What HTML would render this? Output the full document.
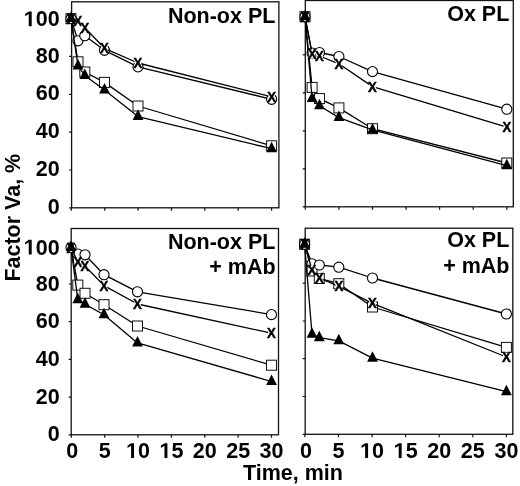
<!DOCTYPE html><html><head><meta charset="utf-8"><style>html,body{margin:0;padding:0;background:#fff}svg{display:block;will-change:transform}</style></head><body>
<svg width="520" height="486" viewBox="0 0 520 486" style="font-family:'Liberation Sans',sans-serif;font-weight:bold">
<rect width="520" height="486" fill="#fff"/>
<defs><g id="xm"><text x="0" y="5.15" font-size="15" text-anchor="middle" transform="scale(0.88 1)" fill="#000" stroke="#000" stroke-width="0.45">X</text></g><path id="one" d="M478 0V1170L140 959V1180L493 1409H759V0Z" transform="scale(0.010498 -0.010498)"/><g id="xb"><rect x="-3.3" y="-4.3" width="6.6" height="8.6" fill="#fff"/><use href="#xm"/></g></defs>
<rect x="71.6" y="1.8" width="207.3" height="206.0" fill="none" stroke="#111" stroke-width="1.3"/>
<path d="M69.1 207.8H71.6M69.1 170.0H71.6M69.1 132.1H71.6M69.1 94.3H71.6M69.1 56.4H71.6M69.1 18.6H71.6M71.3 207.8V210.8M104.7 207.8V210.8M138.1 207.8V210.8M171.5 207.8V210.8M204.8 207.8V210.8M238.2 207.8V210.8M271.6 207.8V210.8" stroke="#111" stroke-width="1.2" fill="none"/>
<polyline points="71.0,18.6 78.0,61.8 84.8,72.0 104.5,82.4 138.0,106.0 271.6,145.8" fill="none" stroke="#000" stroke-width="1.3" stroke-linejoin="round"/>
<rect x="73.0" y="56.8" width="10" height="10" fill="#fff" stroke="#111" stroke-width="1.0"/>
<rect x="79.8" y="67.0" width="10" height="10" fill="#fff" stroke="#111" stroke-width="1.0"/>
<rect x="99.5" y="77.4" width="10" height="10" fill="#fff" stroke="#111" stroke-width="1.0"/>
<rect x="133.0" y="101.0" width="10" height="10" fill="#fff" stroke="#111" stroke-width="1.0"/>
<rect x="266.6" y="140.8" width="10" height="10" fill="#fff" stroke="#111" stroke-width="1.0"/>
<polyline points="71.0,18.6 78.0,40.8 84.8,35.7 104.5,50.3 138.0,66.9 271.6,99.3" fill="none" stroke="#000" stroke-width="1.3" stroke-linejoin="round"/>
<circle cx="78.0" cy="40.8" r="5.05" fill="#fff" stroke="#000" stroke-width="1.1"/>
<circle cx="84.8" cy="35.7" r="5.05" fill="#fff" stroke="#000" stroke-width="1.1"/>
<circle cx="104.5" cy="50.3" r="5.05" fill="#fff" stroke="#000" stroke-width="1.1"/>
<circle cx="138.0" cy="66.9" r="5.05" fill="#fff" stroke="#000" stroke-width="1.1"/>
<circle cx="271.6" cy="99.3" r="5.05" fill="#fff" stroke="#000" stroke-width="1.1"/>
<polyline points="71.0,18.6 78.0,65.9 84.8,75.4 104.5,90.0 138.0,116.6 271.6,148.7" fill="none" stroke="#000" stroke-width="1.3" stroke-linejoin="round"/>
<path d="M78.0 58.9L83.4 69.4H72.6Z" fill="#000"/>
<path d="M84.8 68.4L90.2 78.9H79.4Z" fill="#000"/>
<path d="M104.5 83.0L109.9 93.5H99.1Z" fill="#000"/>
<path d="M138.0 109.6L143.4 120.1H132.6Z" fill="#000"/>
<path d="M271.6 141.7L277.0 152.2H266.2Z" fill="#000"/>
<polyline points="71.0,18.6 78.0,20.5 84.8,27.8 104.5,48.3 138.0,63.0 271.6,96.9" fill="none" stroke="#000" stroke-width="1.3" stroke-linejoin="round"/>
<use href="#xb" x="78.0" y="20.5"/>
<use href="#xb" x="84.8" y="27.8"/>
<use href="#xb" x="104.5" y="48.3"/>
<use href="#xb" x="138.0" y="63.0"/>
<use href="#xb" x="271.6" y="96.9"/>
<rect x="66.0" y="13.6" width="10" height="10" fill="#fff" stroke="#111" stroke-width="1.0"/>
<circle cx="71.0" cy="18.6" r="5.05" fill="#fff" stroke="#000" stroke-width="1.1"/>
<path d="M71.0 11.6L76.4 22.1H65.6Z" fill="#000"/>
<use href="#xm" x="71.0" y="18.6"/>
<rect x="305.3" y="0.5" width="208.0" height="206.3" fill="none" stroke="#111" stroke-width="1.3"/>
<path d="M302.8 206.8H305.3M302.8 168.8H305.3M302.8 130.8H305.3M302.8 92.9H305.3M302.8 54.9H305.3M302.8 16.9H305.3M305.3 206.8V209.8M338.9 206.8V209.8M372.5 206.8V209.8M406.1 206.8V209.8M439.6 206.8V209.8M473.2 206.8V209.8M506.8 206.8V209.8" stroke="#111" stroke-width="1.2" fill="none"/>
<polyline points="305.0,16.7 312.1,87.4 319.5,98.6 338.9,107.9 372.5,128.7 506.8,163.0" fill="none" stroke="#000" stroke-width="1.3" stroke-linejoin="round"/>
<rect x="307.1" y="82.4" width="10" height="10" fill="#fff" stroke="#111" stroke-width="1.0"/>
<rect x="314.5" y="93.6" width="10" height="10" fill="#fff" stroke="#111" stroke-width="1.0"/>
<rect x="333.9" y="102.9" width="10" height="10" fill="#fff" stroke="#111" stroke-width="1.0"/>
<rect x="367.5" y="123.7" width="10" height="10" fill="#fff" stroke="#111" stroke-width="1.0"/>
<rect x="501.8" y="158.0" width="10" height="10" fill="#fff" stroke="#111" stroke-width="1.0"/>
<polyline points="305.0,16.7 312.1,53.0 319.5,52.5 338.9,56.5 372.5,71.6 506.8,109.2" fill="none" stroke="#000" stroke-width="1.3" stroke-linejoin="round"/>
<circle cx="312.1" cy="53.0" r="5.05" fill="#fff" stroke="#000" stroke-width="1.1"/>
<circle cx="319.5" cy="52.5" r="5.05" fill="#fff" stroke="#000" stroke-width="1.1"/>
<circle cx="338.9" cy="56.5" r="5.05" fill="#fff" stroke="#000" stroke-width="1.1"/>
<circle cx="372.5" cy="71.6" r="5.05" fill="#fff" stroke="#000" stroke-width="1.1"/>
<circle cx="506.8" cy="109.2" r="5.05" fill="#fff" stroke="#000" stroke-width="1.1"/>
<polyline points="305.0,16.7 312.1,98.5 319.5,105.8 338.9,117.6 372.5,129.9 506.8,165.7" fill="none" stroke="#000" stroke-width="1.3" stroke-linejoin="round"/>
<path d="M312.1 91.5L317.5 102.0H306.7Z" fill="#000"/>
<path d="M319.5 98.8L324.9 109.3H314.1Z" fill="#000"/>
<path d="M338.9 110.6L344.3 121.1H333.5Z" fill="#000"/>
<path d="M372.5 122.9L377.9 133.4H367.1Z" fill="#000"/>
<path d="M506.8 158.7L512.2 169.2H501.4Z" fill="#000"/>
<polyline points="305.0,16.7 312.1,54.0 319.5,56.0 338.9,63.8 372.5,86.6 506.8,127.1" fill="none" stroke="#000" stroke-width="1.3" stroke-linejoin="round"/>
<use href="#xb" x="312.1" y="54.0"/>
<use href="#xb" x="319.5" y="56.0"/>
<use href="#xb" x="338.9" y="63.8"/>
<use href="#xb" x="372.5" y="86.6"/>
<use href="#xb" x="506.8" y="127.1"/>
<rect x="300.0" y="11.7" width="10" height="10" fill="#fff" stroke="#111" stroke-width="1.0"/>
<circle cx="305.0" cy="16.7" r="5.05" fill="#fff" stroke="#000" stroke-width="1.1"/>
<path d="M305.0 9.7L310.4 20.2H299.6Z" fill="#000"/>
<use href="#xm" x="305.0" y="16.7"/>
<rect x="71.2" y="228.5" width="207.3" height="206.3" fill="none" stroke="#111" stroke-width="1.3"/>
<path d="M68.7 434.8H71.2M68.7 397.1H71.2M68.7 359.4H71.2M68.7 321.7H71.2M68.7 284.0H71.2M68.7 246.3H71.2M71.3 434.8V437.8M104.7 434.8V437.8M138.0 434.8V437.8M171.4 434.8V437.8M204.8 434.8V437.8M238.1 434.8V437.8M271.5 434.8V437.8" stroke="#111" stroke-width="1.2" fill="none"/>
<polyline points="71.0,247.5 77.8,285.1 85.0,293.3 104.0,304.7 137.5,326.0 271.5,365.2" fill="none" stroke="#000" stroke-width="1.3" stroke-linejoin="round"/>
<rect x="72.8" y="280.1" width="10" height="10" fill="#fff" stroke="#111" stroke-width="1.0"/>
<rect x="80.0" y="288.3" width="10" height="10" fill="#fff" stroke="#111" stroke-width="1.0"/>
<rect x="99.0" y="299.7" width="10" height="10" fill="#fff" stroke="#111" stroke-width="1.0"/>
<rect x="132.5" y="321.0" width="10" height="10" fill="#fff" stroke="#111" stroke-width="1.0"/>
<rect x="266.5" y="360.2" width="10" height="10" fill="#fff" stroke="#111" stroke-width="1.0"/>
<polyline points="71.0,247.5 77.8,254.0 85.0,254.8 104.0,274.7 137.5,291.8 271.5,314.6" fill="none" stroke="#000" stroke-width="1.3" stroke-linejoin="round"/>
<circle cx="77.8" cy="254.0" r="5.05" fill="#fff" stroke="#000" stroke-width="1.1"/>
<circle cx="85.0" cy="254.8" r="5.05" fill="#fff" stroke="#000" stroke-width="1.1"/>
<circle cx="104.0" cy="274.7" r="5.05" fill="#fff" stroke="#000" stroke-width="1.1"/>
<circle cx="137.5" cy="291.8" r="5.05" fill="#fff" stroke="#000" stroke-width="1.1"/>
<circle cx="271.5" cy="314.6" r="5.05" fill="#fff" stroke="#000" stroke-width="1.1"/>
<polyline points="71.0,247.5 77.8,299.7 85.0,304.2 104.0,314.8 137.5,342.9 271.5,381.5" fill="none" stroke="#000" stroke-width="1.3" stroke-linejoin="round"/>
<path d="M77.8 292.7L83.2 303.2H72.4Z" fill="#000"/>
<path d="M85.0 297.2L90.4 307.7H79.6Z" fill="#000"/>
<path d="M104.0 307.8L109.4 318.3H98.6Z" fill="#000"/>
<path d="M137.5 335.9L142.9 346.4H132.1Z" fill="#000"/>
<path d="M271.5 374.5L276.9 385.0H266.1Z" fill="#000"/>
<polyline points="71.0,247.5 77.8,262.0 85.0,266.0 104.0,285.6 137.5,304.0 271.5,333.2" fill="none" stroke="#000" stroke-width="1.3" stroke-linejoin="round"/>
<use href="#xb" x="77.8" y="262.0"/>
<use href="#xb" x="85.0" y="266.0"/>
<use href="#xb" x="104.0" y="285.6"/>
<use href="#xb" x="137.5" y="304.0"/>
<use href="#xb" x="271.5" y="333.2"/>
<circle cx="71.0" cy="247.5" r="5.05" fill="#fff" stroke="#000" stroke-width="1.1"/>
<path d="M71.0 240.5L76.4 251.0H65.6Z" fill="#000"/>
<use href="#xm" x="71.0" y="247.5"/>
<rect x="305.2" y="228.2" width="207.6" height="206.1" fill="none" stroke="#111" stroke-width="1.3"/>
<path d="M302.7 434.3H305.2M302.7 396.5H305.2M302.7 358.7H305.2M302.7 321.0H305.2M302.7 283.2H305.2M302.7 245.4H305.2M304.9 434.3V437.3M338.5 434.3V437.3M372.1 434.3V437.3M405.6 434.3V437.3M439.2 434.3V437.3M472.8 434.3V437.3M506.4 434.3V437.3" stroke="#111" stroke-width="1.2" fill="none"/>
<polyline points="304.6,244.3 312.0,271.0 319.3,278.5 338.8,283.7 372.5,307.0 506.4,347.4" fill="none" stroke="#000" stroke-width="1.3" stroke-linejoin="round"/>
<rect x="307.0" y="266.0" width="10" height="10" fill="#fff" stroke="#111" stroke-width="1.0"/>
<rect x="314.3" y="273.5" width="10" height="10" fill="#fff" stroke="#111" stroke-width="1.0"/>
<rect x="333.8" y="278.7" width="10" height="10" fill="#fff" stroke="#111" stroke-width="1.0"/>
<rect x="367.5" y="302.0" width="10" height="10" fill="#fff" stroke="#111" stroke-width="1.0"/>
<rect x="501.4" y="342.4" width="10" height="10" fill="#fff" stroke="#111" stroke-width="1.0"/>
<polyline points="304.6,244.3 312.0,263.8 319.3,265.0 338.8,267.2 372.5,278.0 506.4,314.0" fill="none" stroke="#000" stroke-width="1.3" stroke-linejoin="round"/>
<circle cx="312.0" cy="263.8" r="5.05" fill="#fff" stroke="#000" stroke-width="1.1"/>
<circle cx="319.3" cy="265.0" r="5.05" fill="#fff" stroke="#000" stroke-width="1.1"/>
<circle cx="338.8" cy="267.2" r="5.05" fill="#fff" stroke="#000" stroke-width="1.1"/>
<circle cx="372.5" cy="278.0" r="5.05" fill="#fff" stroke="#000" stroke-width="1.1"/>
<circle cx="506.4" cy="314.0" r="5.05" fill="#fff" stroke="#000" stroke-width="1.1"/>
<polyline points="304.6,244.3 312.0,334.2 319.3,337.7 338.8,340.8 372.5,358.2 506.4,391.7" fill="none" stroke="#000" stroke-width="1.3" stroke-linejoin="round"/>
<path d="M312.0 327.2L317.4 337.7H306.6Z" fill="#000"/>
<path d="M319.3 330.7L324.7 341.2H313.9Z" fill="#000"/>
<path d="M338.8 333.8L344.2 344.3H333.4Z" fill="#000"/>
<path d="M372.5 351.2L377.9 361.7H367.1Z" fill="#000"/>
<path d="M506.4 384.7L511.8 395.2H501.0Z" fill="#000"/>
<polyline points="304.6,244.3 312.0,269.8 319.3,278.0 338.8,286.3 372.5,303.3 506.4,357.0" fill="none" stroke="#000" stroke-width="1.3" stroke-linejoin="round"/>
<use href="#xb" x="312.0" y="269.8"/>
<use href="#xb" x="319.3" y="278.0"/>
<use href="#xb" x="338.8" y="286.3"/>
<use href="#xb" x="372.5" y="303.3"/>
<use href="#xb" x="506.4" y="357.0"/>
<rect x="299.6" y="239.3" width="10" height="10" fill="#fff" stroke="#111" stroke-width="1.0"/>
<circle cx="304.6" cy="244.3" r="5.05" fill="#fff" stroke="#000" stroke-width="1.1"/>
<path d="M304.6 237.3L310.0 247.8H299.2Z" fill="#000"/>
<use href="#xm" x="304.6" y="244.3"/>
<g font-size="21.5" text-anchor="end" fill="#000">
<text x="275.4" y="22.7">Non-ox PL</text>
<text x="509.3" y="20.8">Ox PL</text>
<text x="275.4" y="248.6">Non-ox PL</text>
<text x="275.6" y="273.8">+ mAb</text>
<text x="509.3" y="247.3">Ox PL</text>
<text x="509.5" y="272.6">+ mAb</text>
</g>
<g font-size="21.5" fill="#000">
<text x="47.64" y="213.60">0</text>
<text x="35.69" y="176.26">2</text><text x="47.64" y="176.26">0</text>
<text x="35.69" y="138.32">4</text><text x="47.64" y="138.32">0</text>
<text x="35.69" y="100.08">6</text><text x="47.64" y="100.08">0</text>
<text x="35.69" y="62.84">8</text><text x="47.64" y="62.84">0</text>
<use href="#one" x="23.73" y="26.20"/><text x="35.69" y="26.20">0</text><text x="47.64" y="26.20">0</text>
<text x="47.64" y="440.60">0</text>
<text x="35.69" y="403.64">2</text><text x="47.64" y="403.64">0</text>
<text x="35.69" y="366.08">4</text><text x="47.64" y="366.08">0</text>
<text x="35.69" y="328.22">6</text><text x="47.64" y="328.22">0</text>
<text x="35.69" y="291.36">8</text><text x="47.64" y="291.36">0</text>
<use href="#one" x="23.73" y="254.60"/><text x="35.69" y="254.60">0</text><text x="47.64" y="254.60">0</text>
</g>
<g font-size="21.5" fill="#000">
<text x="66.32" y="458.00">0</text>
<text x="98.69" y="458.00">5</text>
<use href="#one" x="126.08" y="458.00"/><text x="138.03" y="458.00">0</text>
<use href="#one" x="159.44" y="458.00"/><text x="171.40" y="458.00">5</text>
<text x="192.81" y="458.00">2</text><text x="204.77" y="458.00">0</text>
<text x="226.18" y="458.00">2</text><text x="238.13" y="458.00">5</text>
<text x="259.54" y="458.00">3</text><text x="271.50" y="458.00">0</text>
<text x="299.92" y="458.00">0</text>
<text x="332.50" y="458.00">5</text>
<use href="#one" x="360.11" y="458.00"/><text x="372.07" y="458.00">0</text>
<use href="#one" x="393.69" y="458.00"/><text x="405.65" y="458.00">5</text>
<text x="427.28" y="458.00">2</text><text x="439.23" y="458.00">0</text>
<text x="460.86" y="458.00">2</text><text x="472.82" y="458.00">5</text>
<text x="494.44" y="458.00">3</text><text x="506.40" y="458.00">0</text>
</g>
<text x="243" y="479.8" font-size="21.5" fill="#000">Time, min</text>
<text transform="translate(20.2 217.7) rotate(-90)" font-size="21.5" text-anchor="middle" fill="#000">Factor Va, %</text>
</svg></body></html>
